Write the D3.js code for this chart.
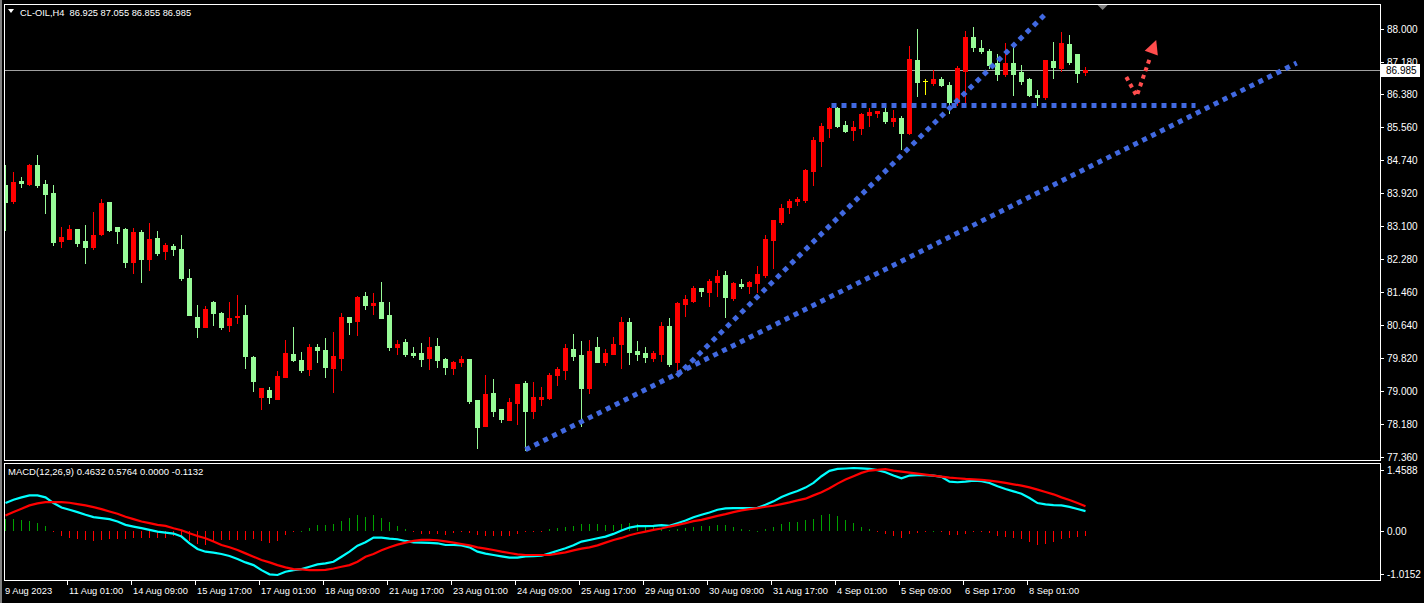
<!DOCTYPE html>
<html><head><meta charset="utf-8">
<script src="https://cdn.jsdelivr.net/npm/d3@7"></script>
<style>html,body{margin:0;padding:0;background:#000;overflow:hidden}svg{display:block}</style>
</head><body>
<svg id="c" width="1424" height="603"></svg>
<script>
// ---- data (CL-OIL H4) ----
const open=[84.12,83.73,84.22,84.15,84.62,84.15,83.92,82.74,82.79,83.03,
82.73,82.57,82.91,83.70,83.08,83.04,82.22,82.96,82.27,82.81,
82.49,82.61,82.53,81.81,80.84,80.60,81.22,80.94,80.63,80.83,
80.89,79.85,78.84,79.03,78.81,79.36,79.92,79.77,79.55,80.10,
80.02,79.58,79.82,80.84,80.74,81.36,81.14,81.22,80.89,80.10,
80.22,79.95,79.95,79.82,80.12,79.80,79.58,79.72,79.80,78.78,
78.13,78.95,78.56,78.28,78.71,79.20,78.51,78.80,78.83,79.40,
79.53,80.05,79.90,79.08,80.10,79.72,79.92,80.17,80.72,80.00,
79.95,79.82,79.92,80.62,79.72,81.17,81.24,81.56,81.46,81.71,
81.89,81.32,81.66,81.61,81.69,81.89,82.76,83.20,83.58,83.73,
83.75,84.47,85.22,85.54,86.04,85.61,85.49,85.54,85.86,85.91,
85.94,85.71,85.79,85.42,87.23,86.71,86.66,86.76,86.61,86.19,
86.96,87.80,87.53,87.45,87.16,86.88,87.16,86.93,86.76,86.36,
86.31,87.20,87.03,87.63,87.38,86.925];
const high=[84.62,84.45,84.32,84.65,84.87,84.25,84.12,83.08,83.13,83.03,
83.13,83.45,83.78,83.70,83.08,83.05,83.05,83.00,83.18,82.98,
82.68,82.66,82.88,82.04,81.14,81.12,81.24,80.97,81.22,81.39,
81.14,79.87,79.07,79.09,79.50,80.27,80.59,79.97,80.17,80.17,
80.32,80.47,80.94,80.84,81.36,81.46,81.44,81.71,81.22,80.27,
80.30,80.10,80.20,80.35,80.32,79.82,79.75,79.87,79.80,78.78,
79.40,79.30,78.56,78.83,79.18,79.25,79.23,79.10,79.45,79.60,
80.17,80.42,80.25,80.27,80.35,80.05,80.35,80.84,80.82,80.25,
80.10,80.00,80.72,80.82,81.22,81.39,81.61,81.56,81.79,82.01,
81.99,81.71,81.79,81.74,82.11,82.88,83.25,83.65,83.78,83.82,
84.52,85.32,85.66,86.06,86.06,85.71,85.71,85.91,86.04,85.96,
86.06,85.99,85.84,87.58,88.00,86.76,86.98,86.81,86.68,87.08,
87.95,88.05,87.73,87.50,87.38,87.65,87.55,87.11,86.78,86.48,
87.23,87.68,87.93,87.85,87.38,87.055];
const low=[83.00,83.67,84.08,84.11,84.06,83.43,82.64,82.59,82.79,82.61,
82.19,82.52,82.89,82.99,82.69,82.09,81.94,81.72,82.02,82.37,
82.29,82.39,81.77,80.88,80.35,80.60,80.65,80.55,80.48,80.70,
79.58,79.01,78.56,78.71,78.81,79.36,79.75,79.48,79.40,79.72,
79.35,78.98,79.53,80.42,80.40,81.04,80.92,80.82,80.02,79.92,
79.87,79.85,79.63,79.55,79.60,79.43,79.43,79.63,78.71,77.59,
78.13,78.38,78.23,78.28,78.18,77.54,78.33,78.66,78.81,79.15,
79.30,79.77,78.13,78.95,79.72,79.65,79.92,79.58,79.67,79.77,
79.72,79.75,79.75,79.63,79.48,80.87,81.22,81.36,81.12,81.36,
80.84,81.27,81.56,81.44,81.46,81.84,82.06,83.15,83.43,83.63,
83.70,84.12,84.60,85.32,85.56,85.44,85.24,85.39,85.59,85.81,
85.66,85.59,85.02,85.39,86.34,86.38,86.61,86.58,85.91,86.11,
86.19,87.45,87.40,87.03,86.73,86.83,86.36,86.63,86.34,86.11,
86.26,86.78,86.96,87.13,86.68,86.855];
const close=[83.71,84.20,84.16,84.62,84.13,83.91,82.71,82.83,83.03,82.69,
82.59,82.88,83.68,83.00,82.98,82.22,82.96,82.29,82.78,82.44,
82.63,82.52,81.82,80.90,80.58,81.04,80.95,80.60,80.82,80.87,
79.86,79.24,79.07,78.84,79.38,79.95,79.77,79.53,80.10,80.01,
79.60,79.87,80.84,80.72,81.34,81.14,81.19,80.82,80.10,80.17,
79.92,79.90,79.80,80.10,79.77,79.60,79.72,79.80,78.76,78.11,
78.93,78.51,78.31,78.73,79.18,78.51,78.85,78.85,79.40,79.55,
80.07,79.87,79.08,80.00,79.72,79.95,80.17,80.72,79.97,79.92,
79.85,79.95,80.62,79.67,81.19,81.29,81.56,81.49,81.74,81.86,
81.34,81.69,81.61,81.71,81.91,82.78,83.25,83.55,83.73,83.78,
84.50,85.24,85.59,86.04,85.59,85.47,85.56,85.89,85.94,85.96,
85.71,85.79,85.42,87.25,86.68,86.71,86.76,86.61,86.19,87.03,
87.80,87.55,87.45,87.11,86.88,87.16,86.88,86.71,86.36,86.31,
87.23,87.06,87.65,87.18,86.91,86.985];
const macdMain=[0.648,0.726,0.780,0.826,0.826,0.780,0.648,0.547,0.493,0.439,
0.377,0.322,0.299,0.276,0.222,0.144,0.105,0.067,0.028,-0.011,
-0.034,-0.057,-0.127,-0.282,-0.414,-0.476,-0.499,-0.530,-0.577,-0.647,
-0.724,-0.786,-0.902,-1.000,-1.015,-0.941,-0.902,-0.879,-0.825,-0.771,
-0.747,-0.709,-0.592,-0.476,-0.336,-0.259,-0.150,-0.150,-0.174,-0.189,
-0.228,-0.259,-0.267,-0.274,-0.282,-0.321,-0.321,-0.329,-0.375,-0.476,
-0.522,-0.553,-0.584,-0.615,-0.615,-0.584,-0.577,-0.569,-0.515,-0.453,
-0.398,-0.329,-0.243,-0.205,-0.166,-0.127,-0.065,0.012,0.082,0.113,
0.113,0.121,0.136,0.121,0.183,0.245,0.322,0.377,0.431,0.493,
0.524,0.532,0.532,0.532,0.540,0.609,0.687,0.788,0.865,0.927,
1.005,1.113,1.268,1.393,1.439,1.447,1.4588,1.450,1.439,1.408,
1.361,1.284,1.222,1.284,1.291,1.291,1.284,1.253,1.144,1.129,
1.144,1.167,1.152,1.113,1.036,0.974,0.919,0.865,0.764,0.648,
0.617,0.602,0.594,0.560,0.510,0.4632];
const macdSignal=[0.361,0.439,0.516,0.594,0.640,0.671,0.671,0.671,0.656,0.625,
0.594,0.555,0.509,0.454,0.400,0.330,0.276,0.222,0.183,0.144,
0.121,0.067,0.020,-0.050,-0.112,-0.166,-0.243,-0.321,-0.375,-0.437,
-0.515,-0.592,-0.670,-0.724,-0.786,-0.840,-0.879,-0.887,-0.902,-0.902,
-0.895,-0.864,-0.825,-0.786,-0.709,-0.592,-0.530,-0.445,-0.375,-0.313,
-0.267,-0.228,-0.205,-0.205,-0.212,-0.236,-0.267,-0.298,-0.329,-0.375,
-0.406,-0.437,-0.476,-0.507,-0.538,-0.553,-0.553,-0.553,-0.553,-0.522,
-0.491,-0.445,-0.406,-0.375,-0.329,-0.267,-0.205,-0.158,-0.096,-0.050,
-0.011,0.028,0.059,0.105,0.144,0.183,0.229,0.260,0.307,0.353,
0.392,0.439,0.478,0.509,0.532,0.563,0.586,0.625,0.664,0.710,
0.749,0.826,0.896,0.989,1.098,1.191,1.268,1.346,1.400,1.415,
1.431,1.400,1.377,1.353,1.330,1.307,1.284,1.260,1.237,1.222,
1.206,1.198,1.183,1.167,1.144,1.113,1.082,1.051,1.012,0.958,
0.904,0.850,0.780,0.720,0.650,0.5764];
const priceTicks=[88.000,87.180,86.380,85.560,84.740,83.920,83.100,82.280,81.460,80.640,79.820,79.000,78.180,77.360];
const macdTicks=[1.4588,0.00,-1.0152];
const macdTickLabels=["1.4588","0.00","-1.0152"];
const timeIdx=[0,8,16,24,32,40,48,56,64,72,80,88,96,104,112,120,128];
const timeLabels=["9 Aug 2023","11 Aug 01:00","14 Aug 09:00","15 Aug 17:00","17 Aug 01:00","18 Aug 09:00","21 Aug 17:00","23 Aug 01:00","24 Aug 09:00","25 Aug 17:00","29 Aug 01:00","30 Aug 09:00","31 Aug 17:00","4 Sep 01:00","5 Sep 09:00","6 Sep 17:00","8 Sep 01:00"];
const headerText="CL-OIL,H4  86.925 87.055 86.855 86.985";
const macdText="MACD(12,26,9) 0.4632 0.5764 0.0000 -0.1132";
const lastPrice=86.985;
// drawn objects (bar index, price)
const trendShallow=[[65,77.54],[161.4,87.155]];
const trendSteep=[[83.9,79.374],[130.0,88.373]];
const levelLine=[[103.25,86.10],[148.75,86.10]];
const arrowPath=[[140.1,86.807],[141.4,86.334],[143.0,87.25]];
const arrowTip=[143.9,87.727];

// ---- drawing ----
const svg=d3.select("#c");
const FONT="'Liberation Sans', Arial, sans-serif";
const L=4, R=1380, T=4, B=460, MT=463, MB=580;
const x=d3.scaleLinear().domain([0,1]).range([5,13]);
const y=d3.scaleLinear().domain([77.36,88.0]).range([457,29]);
const ym=d3.scaleLinear().domain([-1.0152,1.4588]).range([575,468]);

svg.append("rect").attr("width",1424).attr("height",603).attr("fill","#000");
const defs=svg.append("defs");
defs.append("clipPath").attr("id","cm").append("rect").attr("x",L+1).attr("y",T+1).attr("width",R-L-1).attr("height",B-T-1);
defs.append("clipPath").attr("id","cd").append("rect").attr("x",L+1).attr("y",MT+1).attr("width",R-L-1).attr("height",MB-MT-1);

const main=svg.append("g").attr("clip-path","url(#cm)");
const UP="#ff0000", DN="#98fb98", DOJI="#ffff00";
const idx=d3.range(open.length);
// price line
main.append("line").attr("x1",L).attr("x2",R).attr("y1",Math.round(y(lastPrice))+0.5).attr("y2",Math.round(y(lastPrice))+0.5)
  .attr("stroke","#a0a0a0").attr("stroke-width",1);
const cg=main.append("g");
idx.forEach(i=>{
  const o=open[i],c=close[i];
  const col=Math.abs(o-c)<0.004?DOJI:(c>o?UP:DN);
  const cx=x(i);
  const yh=Math.round(y(high[i])), yl=Math.round(y(low[i]));
  cg.append("rect").attr("x",cx).attr("y",yh).attr("width",1).attr("height",Math.max(1,yl-yh+1)).attr("fill",col);
  const yt=Math.round(y(Math.max(o,c))), yb=Math.round(y(Math.min(o,c)));
  cg.append("rect").attr("x",cx-2).attr("y",yt).attr("width",5).attr("height",Math.max(1,yb-yt+1)).attr("fill",col);
});
// trendlines
const tl=d3.line().x(d=>x(d[0])+0.5).y(d=>y(d[1]));
[trendShallow,trendSteep,levelLine].forEach(p=>{
  main.append("path").attr("d",tl(p)).attr("fill","none").attr("stroke","#4169e1").attr("stroke-width",5).attr("stroke-dasharray","5 5");
});
main.append("path").attr("d",tl(arrowPath)).attr("fill","none").attr("stroke","#ff4d4d").attr("stroke-width",4).attr("stroke-dasharray","4 4");
{
  const tx=x(arrowTip[0]), ty=y(arrowTip[1]);
  const last=arrowPath[arrowPath.length-1];
  const bx=x(last[0]), by=y(last[1]);
  const ang=Math.atan2(ty-by,tx-bx);
  const len=14, w=7;
  const px=tx-len*Math.cos(ang), py=ty-len*Math.sin(ang);
  const nx=-Math.sin(ang), ny=Math.cos(ang);
  main.append("path").attr("d",`M${tx},${ty}L${px+nx*w},${py+ny*w}L${px-nx*w},${py-ny*w}Z`).attr("fill","#ff4d4d");
}

// MACD panel
const md=svg.append("g").attr("clip-path","url(#cd)");
const z0=Math.round(ym(0));
idx.forEach(i=>{
  const h=macdMain[i]-macdSignal[i];
  const yy=Math.round(ym(h));
  md.append("rect").attr("x",x(i)).attr("width",1)
    .attr("y",Math.min(yy,z0)).attr("height",Math.max(1,Math.abs(yy-z0)))
    .attr("fill",h>=0?"#00a000":"#ff0000");
});
const ml=d3.line().x((d,i)=>x(i)+0.5).y(d=>ym(d));
md.append("path").attr("d",ml(macdMain)).attr("fill","none").attr("stroke","#00ffff").attr("stroke-width",2.2);
md.append("path").attr("d",ml(macdSignal)).attr("fill","none").attr("stroke","#ff0000").attr("stroke-width",2.2);

// frames
svg.append("rect").attr("x",L+0.5).attr("y",T+0.5).attr("width",R-L).attr("height",B-T).attr("fill","none").attr("stroke","#fff");
svg.append("rect").attr("x",L+0.5).attr("y",MT+0.5).attr("width",R-L).attr("height",MB-MT).attr("fill","none").attr("stroke","#fff");
svg.append("rect").attr("x",0).attr("y",0).attr("width",2).attr("height",603).attr("fill","#808080");

// right axis
const ax=svg.append("g").attr("font-family",FONT).attr("font-size","10px").attr("fill","#fff");
priceTicks.forEach(v=>{
  const yy=Math.round(y(v))+0.5;
  ax.append("line").attr("x1",R).attr("x2",R+4).attr("y1",yy).attr("y2",yy).attr("stroke","#fff");
  ax.append("text").attr("x",R+7).attr("y",yy).attr("dy","0.35em").text(v.toFixed(3));
});
macdTicks.forEach((v,k)=>{
  let yy=Math.round(ym(v))+0.5;
  if(k===0) yy=470.5; if(k===2) yy=574.5;
  ax.append("line").attr("x1",R).attr("x2",R+4).attr("y1",yy).attr("y2",yy).attr("stroke","#fff");
  ax.append("text").attr("x",R+7).attr("y",yy).attr("dy","0.35em").text(macdTickLabels[k]);
});
// last price box
{
  const yy=y(lastPrice);
  svg.append("rect").attr("x",R+1).attr("y",Math.round(yy)-6).attr("width",39).attr("height",13).attr("fill","#fff");
  svg.append("text").attr("x",R+6).attr("y",Math.round(yy)+0.5).attr("dy","0.35em").attr("font-family",FONT).attr("font-size","10px").attr("fill","#000").text(lastPrice.toFixed(3));
}
// time axis
const tx=svg.append("g").attr("font-family",FONT).attr("font-size","9.3px").attr("fill","#fff");
timeIdx.forEach((b,k)=>{
  const xx=x(b)-2;
  if(k>0) tx.append("line").attr("x1",xx+0.5).attr("x2",xx+0.5).attr("y1",MB).attr("y2",MB+5).attr("stroke","#fff");
  tx.append("text").attr("x",xx+2).attr("y",591).attr("dy","0.35em").text(timeLabels[k]);
});
// header
svg.append("path").attr("d","M8,9L14,9L11,13Z").attr("fill","#fff");
svg.append("text").attr("x",20).attr("y",12.5).attr("dy","0.35em").attr("font-family",FONT).attr("font-size","9.3px").attr("fill","#fff").style("white-space","pre").text(headerText);
svg.append("text").attr("x",8).attr("y",471.5).attr("dy","0.35em").attr("font-family",FONT).attr("font-size","9.5px").attr("fill","#fff").text(macdText);
// chart shift marker
{
  const sx=x(137.2);
  svg.append("path").attr("d",`M${sx-5},${T+1}L${sx+5},${T+1}L${sx},${T+6}Z`).attr("fill","#808080");
}
</script>
</body></html>
